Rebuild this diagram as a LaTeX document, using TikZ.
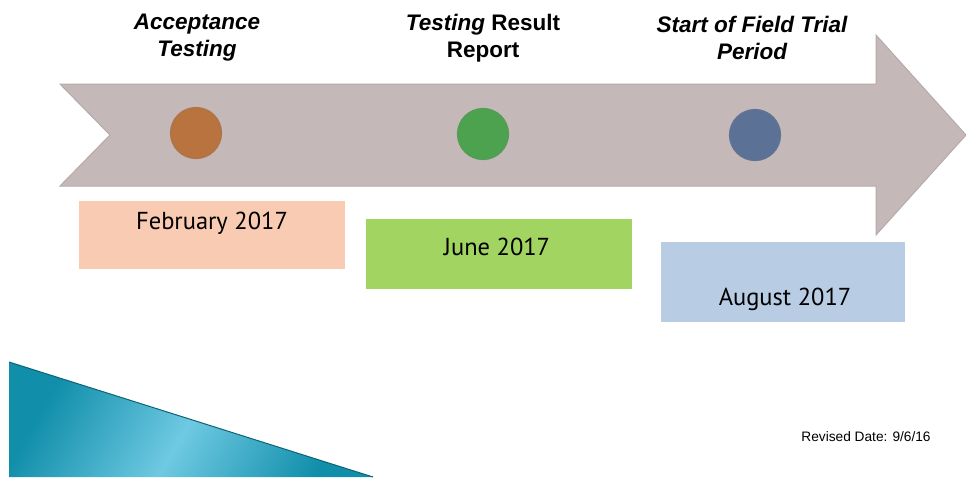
\documentclass[tikz,border=0pt]{standalone}
\usepackage{fontspec}
\setmainfont{Liberation Sans}
\newfontfamily\datefont{PT Sans}
\usetikzlibrary{shadings}
\definecolor{arrowfill}{HTML}{C5B8B8}
\definecolor{arrowedge}{HTML}{B5AAAA}
\definecolor{febfill}{HTML}{F8CBB2}
\definecolor{junfill}{HTML}{A2D462}
\definecolor{augfill}{HTML}{B8CCE4}
\definecolor{dotorange}{HTML}{B8733F}
\definecolor{dotgreen}{HTML}{4CA24E}
\definecolor{dotblue}{HTML}{5B7196}
\definecolor{tealdark}{HTML}{108EAA}
\definecolor{teallight}{HTML}{6FC9E2}
\tikzset{
  datetext/.style={font=\datefont\fontsize{24.5}{28}\selectfont, inner sep=0pt},
  title/.style={font=\bfseries\itshape\fontsize{22.5}{27}\selectfont, align=center, inner sep=0pt},
  dot/.style={circle, minimum size=51pt, inner sep=0pt, line width=1.2pt}
}
\begin{document}
\begin{tikzpicture}[x=1pt,y=-1pt]
\useasboundingbox (0,0) rectangle (966,477);
% teal corner
\shade[left color=tealdark, right color=tealdark, middle color=teallight, shading angle=60]
  (9,362) -- (373,477) -- (9,477) -- cycle;
\draw[tealdark!70!black, line width=1pt] (9,362) -- (373,477);
% arrow
\filldraw[fill=arrowfill, draw=arrowedge, line width=1pt]
  (60,84) -- (876,84) -- (876,35) -- (966,135) -- (876,235) -- (876,186) -- (60,186) -- (110,135) -- cycle;
% dots
\node[dot, fill=dotorange, draw=dotorange!80!gray] (d1) at (196,133) {};
\node[dot, fill=dotgreen, draw=dotgreen!80!gray] (d2) at (483,134) {};
\node[dot, fill=dotblue, draw=dotblue!80!gray] (d3) at (755,135) {};
% titles
\node[title] (t1) at (197,38) {Acceptance\\Testing};
\node[title] (t2) at (483,38) {Testing \upshape Result\\\upshape Report};
\node[title] (t3) at (752,38) {Start of Field Trial\\Period};
% date boxes
\fill[febfill] (79,201) rectangle (345,269);
\fill[junfill] (366,219) rectangle (632,289);
\fill[augfill] (661,242) rectangle (905,322);
\node[datetext] (b1) at (212,223) {February 2017};
\node[datetext] (b2) at (497,247) {June 2017};
\node[datetext] (b3) at (785,299) {August 2017};
% revised
\node[font=\fontsize{13.7}{16}\selectfont, inner sep=0pt] (rev) at (866,437) {Revised Date: 9/6/16};
\end{tikzpicture}
\end{document}
